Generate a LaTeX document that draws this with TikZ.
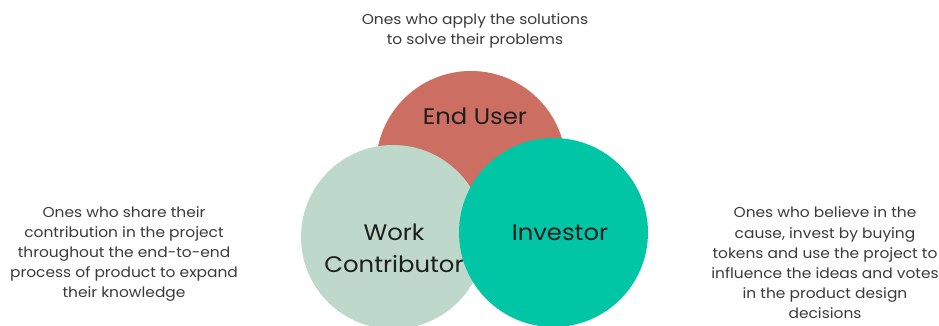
\documentclass[tikz,border=0pt]{standalone}
\usepackage{fontspec}
\setmainfont{Poppins}[FakeStretch=1.08]
\definecolor{userred}{HTML}{CC6F62}
\definecolor{workgreen}{HTML}{BED8CB}
\definecolor{investteal}{HTML}{00C6A6}
\definecolor{desctext}{HTML}{3A3A3A}
\definecolor{labeltext}{HTML}{1E1E1E}
\begin{document}
\begin{tikzpicture}[x=1pt,y=-1pt,
  role/.style={circle,inner sep=0pt,minimum size=#1},
  rolelabel/.style={text=labeltext,font=\fontsize{22.5}{32}\selectfont,align=center,inner sep=0pt},
  desc/.style={text=desctext,font=\fontsize{14.3}{20.2}\selectfont,align=center,inner sep=0pt}]
  \useasboundingbox (0,0) rectangle (939,326);
  \clip (0,0) rectangle (939,326);
  % the three overlapping role circles
  \node[role=190pt,fill=userred]    (user)   at (471,166) {};
  \node[role=184pt,fill=workgreen]  (work)   at (393,237) {};
  \node[role=189pt,fill=investteal] (invest) at (553.5,232.5) {};
  % circle labels
  \node[rolelabel] (userlbl)   at (475,116) {End User};
  \node[rolelabel] (worklbl)   at (394,248) {Work\\Contributor};
  \node[rolelabel] (investlbl) at (560,233) {Investor};
  % descriptions
  \node[desc] (userdesc)   at (475,31)  {Ones who apply the solutions\\to solve their problems};
  \node[desc] (workdesc)   at (124,254) {Ones who share their\\contribution in the project\\throughout the end-to-end\\process of product to expand\\their knowledge};
  \node[desc] (investdesc) at (825,263) {Ones who believe in the\\cause, invest by buying\\tokens and use the project to\\influence the ideas and votes\\in the product design\\decisions};
\end{tikzpicture}
\end{document}
